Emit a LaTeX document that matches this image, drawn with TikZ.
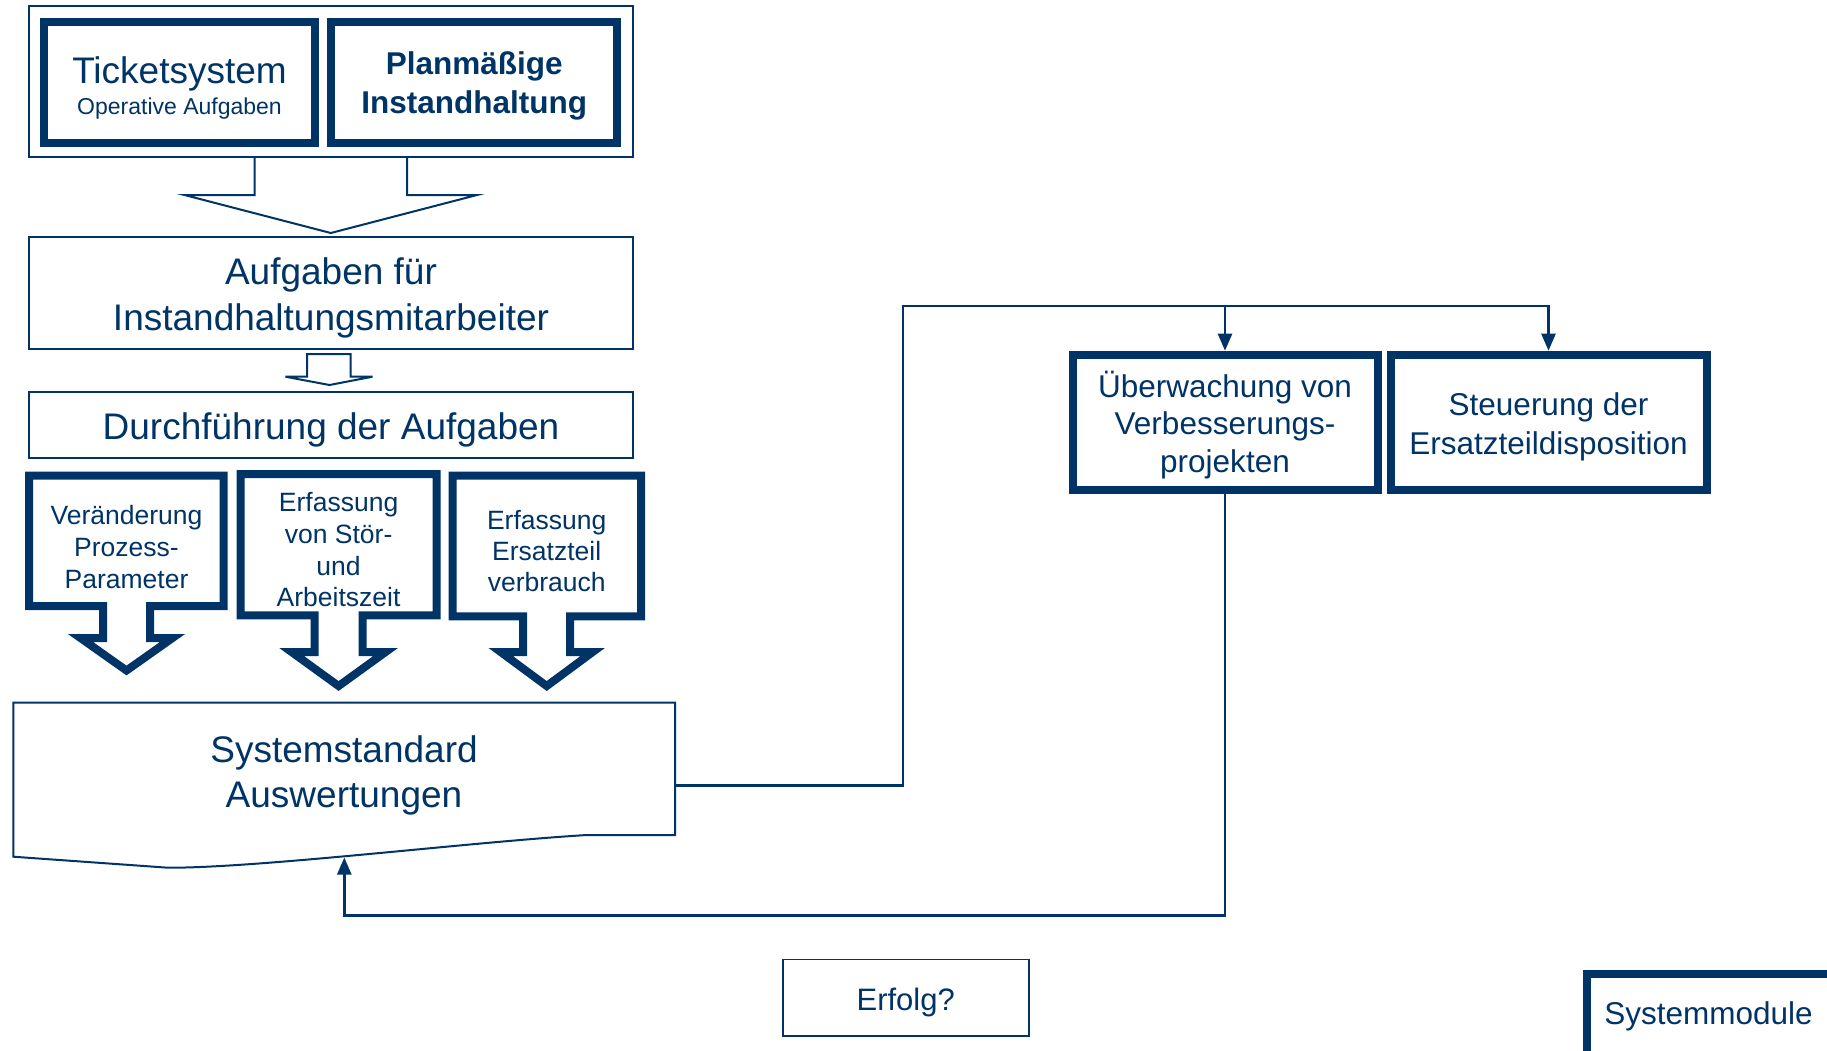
\documentclass[tikz,border=0pt]{standalone}
\usepackage{fontspec}
\setmainfont{Liberation Sans}
\usetikzlibrary{arrows.meta}
\definecolor{navy}{RGB}{0,51,102}
\newcommand{\fs}[2]{\fontsize{#1}{#2}\selectfont}
\newcommand{\lift}[1]{\rule{0pt}{#1}}
\begin{document}
\begin{tikzpicture}[x=1pt,y=-1pt,
  thickbox/.style={draw=navy, line width=8pt, rectangle, inner sep=0pt, text=navy, align=center},
  thinbox/.style={draw=navy, line width=2pt, rectangle, inner sep=0pt, text=navy, align=center},
  txt/.style={text=navy, align=center, inner sep=0pt},
  thinline/.style={draw=navy, line width=2pt, line join=miter},
  conn/.style={draw=navy, line width=2.4pt},
  tip/.style={-{Triangle[length=17pt,width=14pt]}},
  blockarrow/.style={draw=navy, line width=8pt, line join=miter, fill=white},
  ]
\useasboundingbox (0,0) rectangle (1827,1050);
\fill[white] (0,0) rectangle (1827,1050);

% top group
\node[thinbox, minimum width=604.8pt, minimum height=151.3pt] (src) at (331,81.65) {};
\node[thickbox, minimum width=271pt, minimum height=120.4pt, font=\fs{23}{31}] (ticket) at (179.5,82.5)
  {{\fs{37}{37}\lift{37pt}Ticketsystem}\\Operative Aufgaben};
\node[thickbox, minimum width=285.6pt, minimum height=120.4pt, font=\fs{31.5}{38.5}\bfseries] (plan) at (474.2,82.5)
  {\lift{30pt}Planmäßige\\Instandhaltung};

% merge arrow
\draw[thinline] (254.6,157.3) -- (254.6,195) -- (184.5,195) -- (330.8,233) -- (477,195) -- (407,195) -- (407,157.3);

\node[thinbox, minimum width=604.8pt, minimum height=111.7pt, font=\fs{37}{45.5}] (aufg) at (331,293.15)
  {\lift{36pt}Aufgaben für\\Instandhaltungsmitarbeiter};

% small block arrow
\draw[thinline] (307.2,354) -- (350.6,354) -- (350.6,376.7) -- (372.5,376.7) -- (329.5,385) -- (285.4,376.7) -- (307.2,376.7) -- cycle;

\node[thinbox, minimum width=604.8pt, minimum height=66pt, font=\fs{37}{45}] (durch) at (331,425.3)
  {\lift{36pt}Durchführung der Aufgaben};

% three block arrows
\draw[blockarrow] (29,475.7) -- (223.5,475.7) -- (223.5,606) -- (150,606) -- (150,638) -- (172.5,638) -- (126.5,670.5) -- (80.5,638) -- (103,638) -- (103,606) -- (29,606) -- cycle;
\draw[blockarrow] (240.5,474) -- (436.7,474) -- (436.7,615.3) -- (362.6,615.3) -- (362.6,652) -- (385.6,652) -- (338.6,686) -- (291.6,652) -- (314.6,652) -- (314.6,615.3) -- (240.5,615.3) -- cycle;
\draw[blockarrow] (452.5,475.5) -- (641,475.5) -- (641,616.3) -- (570.2,616.3) -- (570.2,652) -- (592.7,652) -- (546.7,686) -- (500.7,652) -- (523.2,652) -- (523.2,616.3) -- (452.5,616.3) -- cycle;
\node[txt, font=\fs{26.5}{32}] (veraend) at (126.5,547.5) {Veränderung\\Prozess-\\Parameter};
\node[txt, font=\fs{26.5}{31.7}] (stoer) at (338.6,549.7) {Erfassung\\von Stör-\\und\\Arbeitszeit};
\node[txt, font=\fs{26.5}{31}] (ersatz) at (546.7,551) {Erfassung\\Ersatzteil\\verbrauch};

% Systemstandard document shape
\draw[navy, line width=2pt, line join=miter, fill=white]
  (13.3,702.7) -- (675,702.7) -- (675,835) -- (587,835)
  .. controls (470,842) and (260,868) .. (168,867.7) -- (13.3,856.7) -- cycle;
\node[txt, font=\fs{37}{45}] (sysT) at (344,775.8) {Systemstandard\\Auswertungen};
\coordinate (sysR) at (675,785.3);
\coordinate (sysB) at (344.3,857.5);

% right boxes
\node[thickbox, minimum width=305pt, minimum height=135.3pt, font=\fs{31.5}{37.5}] (ueber) at (1225,422.35)
  {\lift{31pt}Überwachung von\\Verbesserungs-\\projekten};
\node[thickbox, minimum width=316pt, minimum height=135.3pt, font=\fs{31.5}{38.5}] (steu) at (1548.5,422.35)
  {\lift{32pt}Steuerung der\\Ersatzteildisposition};

% connectors
\coordinate (j1) at (903,785.3);
\coordinate (j2) at (903,306);
\coordinate (j4) at (0,915.5);
\draw[conn, tip] (sysR) -- (j1) -- (j2) -| (ueber.north);
\draw[conn, tip] (j2 -| ueber.north) -| (steu.north);
\draw[conn, tip] (ueber.south) -- (ueber.south |- j4) -| (sysB);

% bottom
\node[draw=navy, line width=1.6pt, rectangle, inner sep=0pt, text=navy, minimum width=246pt, minimum height=76.4pt, font=\fs{31}{37}] (erfolg) at (905.7,997.5) {\lift{31.5pt}Erfolg?};
\node[draw=navy, line width=8pt, rectangle, inner sep=0pt, anchor=north west, minimum width=260pt, minimum height=110pt] (sysmod) at (1583,970) {};
\node[txt, font=\fs{31.5}{37}] (sysmodT) at (1708.5,1016.3) {Systemmodule};
\end{tikzpicture}
\end{document}
